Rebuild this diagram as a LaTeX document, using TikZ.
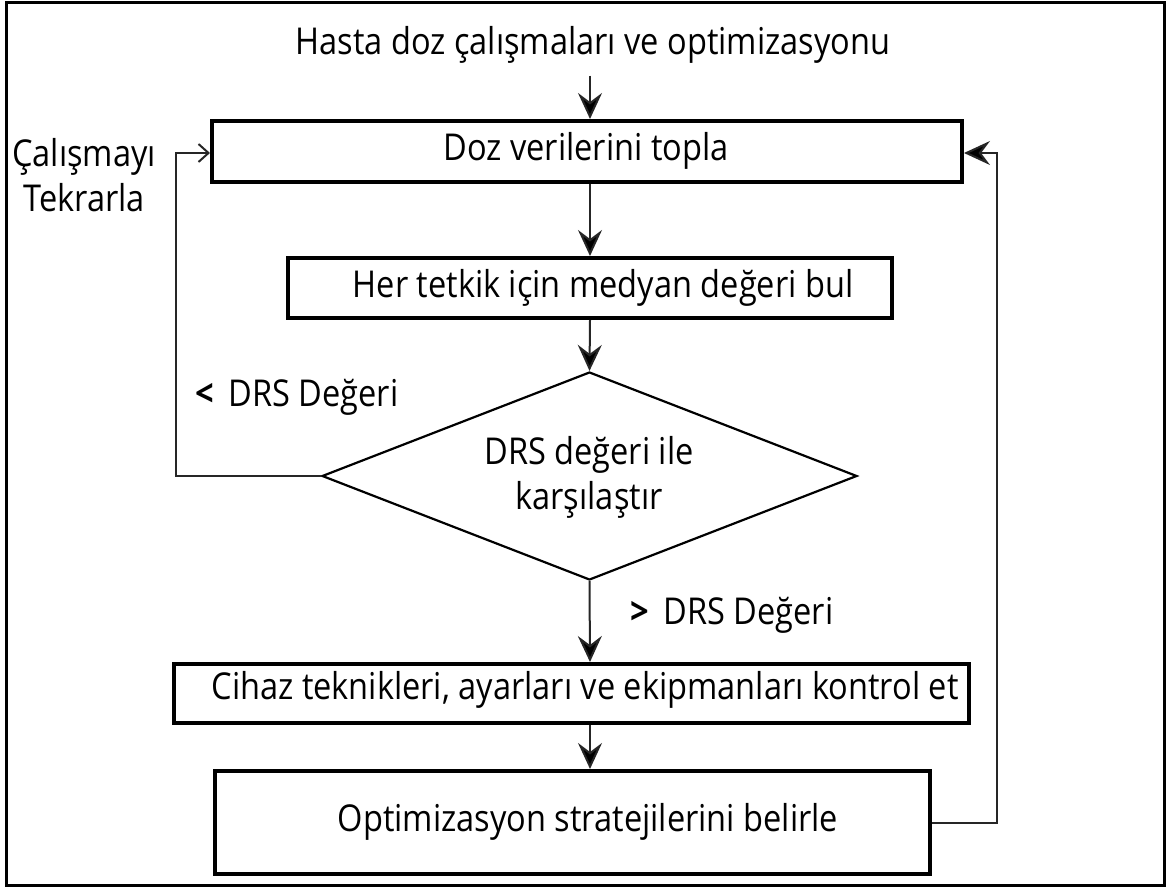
\documentclass[tikz,border=0pt]{standalone}
\usepackage{fontspec}
\setmainfont{Open Sans}[FakeStretch=0.88]
\usetikzlibrary{arrows.meta,shapes.geometric}
\begin{document}
\begin{tikzpicture}[x=1pt,y=-1pt,
  box/.style={draw,line width=4pt,inner sep=0pt},
  txt/.style={inner sep=0pt,font=\fontsize{37}{45}\selectfont,align=center},
  conn/.style={line width=2pt,draw=black!85},
  arr/.style={conn,-{Stealth[length=26pt,width=24pt,inset=9pt,fill=black]}},
  barb/.style={conn,-{Straight Barb[length=10pt,width=18pt]}}]
\useasboundingbox (0,0) rectangle (1168,890);
\draw[line width=3pt] (6,3) rectangle (1164,885);
\coordinate (col) at (590,0);
% title
\node[txt] (title) at (593,45) {Hasta doz çalışmaları ve optimizasyonu};
% boxes
\node[box,minimum width=750pt,minimum height=61pt] (b1) at (587,151.5) {};
\node[txt] (t1) at (586,151) {Doz verilerini topla};
\node[box,minimum width=604pt,minimum height=60pt] (b2) at (590,288) {};
\node[txt] (t2) at (603,288) {Her tetkik için medyan değeri bul};
\node[draw,diamond,line width=2.2pt,minimum width=535pt,minimum height=208pt,inner sep=0pt] (d) at (589.5,476) {};
\node[txt] (td) at (589,477) {DRS değeri ile\\karşılaştır};
\node[box,minimum width=795pt,minimum height=59pt] (b3) at (571.5,693.5) {};
\node[txt] (t3) at (585,690) {Cihaz teknikleri, ayarları ve ekipmanları kontrol et};
\node[box,minimum width=715pt,minimum height=103pt] (b4) at (572.5,822.5) {};
\node[txt] (t4) at (588,822) {Optimizasyon stratejilerini belirle};
% side labels
\node[txt] (rep) at (84,175) {Çalışmayı\\Tekrarla};
\node[txt,anchor=west] (lt) at (195,397) {\textbf{<}\hspace{0.4em}DRS Değeri};
\node[txt,anchor=west] (gt) at (630,615) {\textbf{>}\hspace{0.4em}DRS Değeri};
% loop corners
\coordinate (lc) at (176,0);
\coordinate (rc) at (997,0);
% connectors
\draw[arr] (col |- title.south) ++(0,12) -- (col |- b1.north);
\draw[arr] (col |- b1.south) -- (col |- b2.north);
\draw[arr] (col |- b2.south) -- (d.north);
\draw[arr] (d.south) -- (col |- b3.north);
\draw[arr] (col |- b3.south) -- (col |- b4.north);
\draw[barb] (d.west) -- (lc |- d.west) -- (lc |- 0,153) -- (b1.west |- 0,153);
\draw[arr] (b4.east |- 0,823) -- (rc |- 0,823) -- (rc |- 0,153) -- (b1.east |- 0,153);
\end{tikzpicture}
\end{document}
